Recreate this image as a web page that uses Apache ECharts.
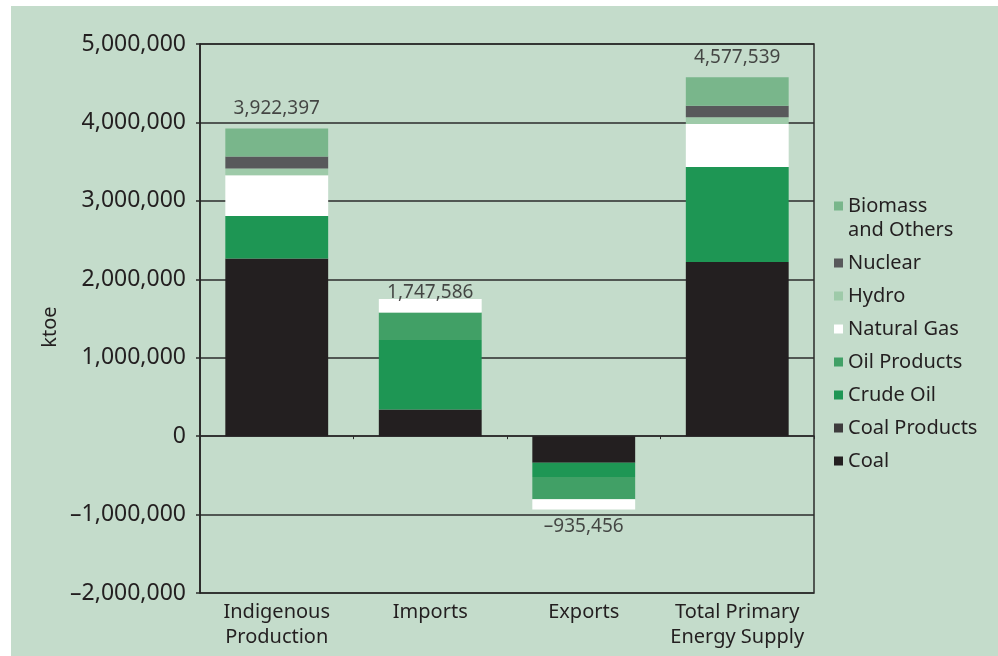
<!DOCTYPE html>
<html>
<head>
<meta charset="utf-8">
<script src="https://cdn.jsdelivr.net/npm/echarts@6/dist/echarts.min.js"></script>
<style>
html,body{margin:0;padding:0;background:#ffffff;}
#chart{width:998px;height:656px;}
</style>
</head>
<body>
<div id="chart"></div>
<script>
const categories = ['Indigenous\nProduction', 'Imports', 'Exports', 'Total Primary\nEnergy Supply'];
const coal         = [2266000, 340000, -340000, 2220000];
const coalProducts = [0, 0, 0, 0];
const crudeOil     = [540000, 885000, -180000, 1212000];
const oilProducts  = [0, 350000, -285000, 0];
const naturalGas   = [520000, 172586, -130456, 549000];
const hydro        = [85000, 0, 0, 85000];
const nuclear      = [153000, 0, 0, 148000];
const biomass      = [358397, 0, 0, 363539];
const totals       = [3922397, 1747586, -935456, 4577539];
const yTicks = { min: -2000000, max: 5000000, interval: 1000000 };

const colors = {
  'Coal': '#231f20',
  'Coal Products': '#3d3b3c',
  'Crude Oil': '#1e9654',
  'Oil Products': '#41a066',
  'Natural Gas': '#ffffff',
  'Hydro': '#9ecaa9',
  'Nuclear': '#58595b',
  'Biomass and Others': '#79b68b'
};
const seriesDefs = [
  ['Coal', coal], ['Coal Products', coalProducts], ['Crude Oil', crudeOil],
  ['Oil Products', oilProducts], ['Natural Gas', naturalGas], ['Hydro', hydro],
  ['Nuclear', nuclear], ['Biomass and Others', biomass]
];

function fmt(v) {
  const s = Math.abs(v).toLocaleString('en-US');
  return v < 0 ? '\u2013' + s : s;
}

const font = '"Noto Sans", "Open Sans", sans-serif';
const chart = echarts.init(document.getElementById('chart'), null, {renderer: 'canvas'});

const series = seriesDefs.map(([name, data]) => ({
  name: name,
  type: 'bar',
  stack: 'total',
  barWidth: '67%',
  xAxisIndex: 0,
  data: data,
  itemStyle: { color: colors[name] },
  emphasis: { disabled: true }
}));

series.push({
  name: 'totals',
  type: 'scatter',
  xAxisIndex: 0,
  symbolSize: 1,
  itemStyle: { color: 'rgba(0,0,0,0)' },
  data: totals.map((v, i) => ({
    value: v,
    label: {
      position: v < 0 ? 'bottom' : 'top',
      distance: i === 1 ? -4 : (v < 0 ? 7 : 10)
    }
  })),
  label: {
    show: true,
    formatter: p => fmt(p.value),
    color: '#231f20',
    fontSize: 19,
    fontFamily: font
  },
  z: 10
});

const legendOrder = ['Biomass and Others', 'Nuclear', 'Hydro', 'Natural Gas', 'Oil Products', 'Crude Oil', 'Coal Products', 'Coal'];

chart.setOption({
  animation: false,
  backgroundColor: 'transparent',
  graphic: [
    { type: 'rect', z: -10, shape: { x: 11, y: 6, width: 987, height: 650 }, style: { fill: '#c4dccb' } },
    { type: 'text', x: 50, y: 327, rotation: Math.PI / 2,
      style: { text: 'ktoe', fill: '#231f20', fontSize: 20, fontFamily: font, align: 'center', verticalAlign: 'middle' } }
  ],
  grid: {
    left: 200, right: 184, top: 44, bottom: 63,
    show: true, borderColor: '#2b2b2b', borderWidth: 1.5, backgroundColor: 'transparent'
  },
  legend: {
    orient: 'vertical',
    left: 834,
    top: 170,
    padding: 0,
    itemWidth: 9,
    itemHeight: 9,
    itemGap: 9,
    icon: 'rect',
    data: legendOrder,
    formatter: n => n === 'Biomass and Others' ? '\nBiomass\nand Others' : n,
    textStyle: { color: '#231f20', fontSize: 20, fontFamily: font, lineHeight: 24 },
    selectedMode: false
  },
  xAxis: [
    {
      type: 'category',
      data: categories,
      position: 'bottom',
      axisLine: { show: false, onZero: false },
      axisTick: { show: false },
      axisLabel: { color: '#231f20', fontSize: 20, fontFamily: font, lineHeight: 25, margin: 7, interval: 0 }
    },
    {
      type: 'category',
      data: categories,
      position: 'top',
      axisLine: { show: true, onZero: true, lineStyle: { color: '#2b2b2b', width: 1.5 } },
      axisTick: { show: true, inside: true, length: 3, lineStyle: { color: '#2b2b2b', width: 1 } },
      axisLabel: { show: false },
      splitLine: { show: false }
    }
  ],
  yAxis: {
    type: 'value',
    min: yTicks.min,
    max: yTicks.max,
    interval: yTicks.interval,
    axisLine: { show: true, lineStyle: { color: '#231f20', width: 1.5 } },
    axisTick: { show: true, inside: false, length: 4, lineStyle: { color: '#2b2b2b', width: 1.5 } },
    axisLabel: { color: '#231f20', fontSize: 23, fontFamily: font, margin: 14, formatter: v => fmt(v) },
    splitLine: { show: true, lineStyle: { color: '#2b2b2b', width: 1.5 } }
  },
  series: series
});
</script>
</body>
</html>
